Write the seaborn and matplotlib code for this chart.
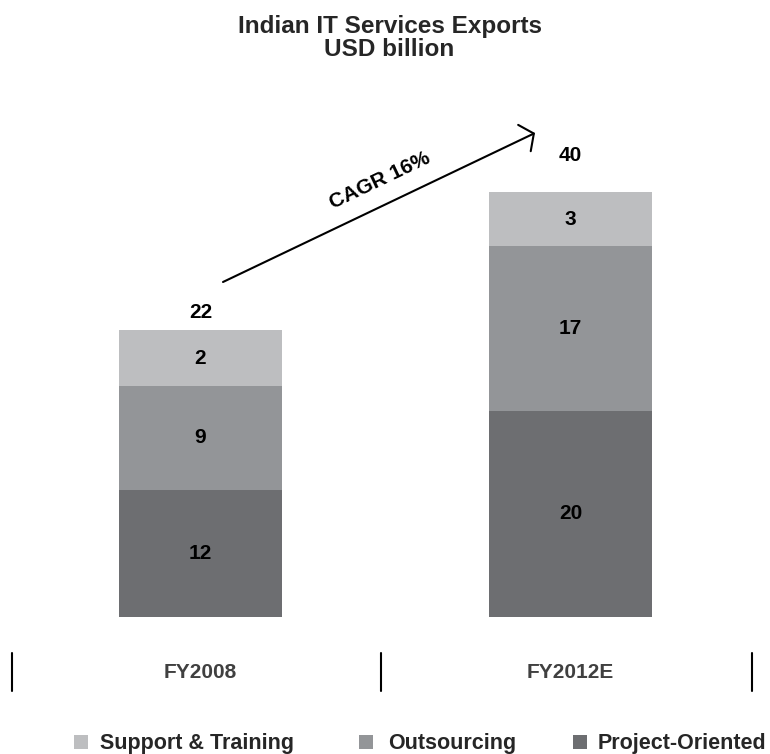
import matplotlib
matplotlib.use("Agg")
import matplotlib.pyplot as plt
import seaborn as sns
import pandas as pd
from matplotlib.lines import Line2D
from matplotlib.patches import Rectangle

# ---------------- data ----------------
categories = ["FY2008", "FY2012E"]
# segment heights as drawn in the picture (the original bars are not to scale)
project_oriented = [11.95, 19.4]
outsourcing = [9.8, 15.5]
support_training = [5.25, 5.1]
# printed value labels
project_labels = ["12", "20"]
outsourcing_labels = ["9", "17"]
support_labels = ["2", "3"]
total_labels = ["22", "40"]
series_names = ["Support & Training", "Outsourcing", "Project-Oriented"]
cagr_label = "CAGR 16%"
title_lines = ["Indian IT Services Exports", "USD billion"]

# ---------------- style ----------------
colors = {"Support & Training": "#BDBEC0",
          "Outsourcing": "#939598",
          "Project-Oriented": "#6D6E71"}

sns.set_theme(style="white")
plt.rcParams["font.family"] = ["Liberation Sans", "DejaVu Sans"]
plt.rcParams["font.weight"] = "bold"

W, H = 770, 754
fig = plt.figure(figsize=(W / 100, H / 100), dpi=100)
fig.patch.set_facecolor("white")

base_px, top_px = 617, 100
px_per_unit = 10.625
ax = fig.add_axes([0, (H - base_px) / H, 1, (base_px - top_px) / H])

df = pd.DataFrame({"category": categories,
                   "p": project_oriented,
                   "o": outsourcing,
                   "s": support_training})
df["po"] = df["p"] + df["o"]
df["pos"] = df["po"] + df["s"]

bar_w = 163 / 370
for col, name in [("pos", "Support & Training"), ("po", "Outsourcing"), ("p", "Project-Oriented")]:
    sns.barplot(data=df, x="category", y=col, color=colors[name], width=bar_w,
                saturation=1, linewidth=0, edgecolor="none", ax=ax, errorbar=None)

ax.set_xlim(-200.5 / 370, (W - 200.5) / 370)
ax.set_ylim(0, (base_px - top_px) / px_per_unit)
ax.axis("off")

fs = 15
# segment labels
for i in range(len(categories)):
    p = df["p"][i]; o = df["o"][i]; s = df["s"][i]
    ax.text(i, p / 2, project_labels[i], ha="center", va="center", fontsize=fs, fontweight="bold", color="black")
    ax.text(i, p + o / 2, outsourcing_labels[i], ha="center", va="center", fontsize=fs, fontweight="bold", color="black")
    ax.text(i, p + o + s / 2, support_labels[i], ha="center", va="center", fontsize=fs, fontweight="bold", color="black")

# totals above bars
total_offsets_pt = [13, 26]
for i in range(len(categories)):
    ax.annotate(total_labels[i], xy=(i, df["pos"][i]), xytext=(0, total_offsets_pt[i]),
                textcoords="offset points", ha="center", va="center",
                fontsize=fs, fontweight="bold", color="black", annotation_clip=False)

# category labels
for i, c in enumerate(categories):
    ax.text(i, (base_px - 672) / px_per_unit, c, ha="center", va="center",
            fontsize=fs, fontweight="bold", color="#404040", clip_on=False)

# separators
for xp in [12, 381, 752]:
    fig.add_artist(Line2D([xp / W, xp / W], [1 - 653 / H, 1 - 691 / H], color="black", lw=1.5))

# CAGR arrow
def to_data(xp, yp):
    return ((xp - 200.5) / 370, (base_px - yp) / px_per_unit)

ax.annotate("", xy=to_data(535, 133), xytext=to_data(223, 282),
            arrowprops=dict(arrowstyle="->,head_length=0.75,head_width=1.05", lw=1.5,
                            color="black", shrinkA=0, shrinkB=0, mutation_scale=10),
            annotation_clip=False)
cx, cy = to_data(380, 181)
ax.text(cx, cy, cagr_label, rotation=25.5, rotation_mode="anchor", ha="center", va="center",
        fontsize=fs, fontweight="bold", color="black")

# title
fig.text(389.5 / W, 1 - 33 / H, title_lines[0], ha="center", va="baseline", fontsize=17.5, fontweight="bold")
fig.text(389.5 / W, 1 - 56 / H, title_lines[1], ha="center", va="baseline", fontsize=17.5, fontweight="bold")

# legend (custom, bottom edge)
marker_x = [74, 359, 573]
text_x = [100, 388, 598]
for name, mx, tx in zip(series_names, marker_x, text_x):
    fig.add_artist(Rectangle((mx / W, 1 - 749 / H), 14 / W, 14 / H, transform=fig.transFigure,
                             facecolor=colors[name], edgecolor="none"))
    fig.text(tx / W, 1 - 749 / H, name, ha="left", va="baseline", fontsize=15.5, fontweight="bold")

fig.savefig("out.png", dpi=100, facecolor="white")
